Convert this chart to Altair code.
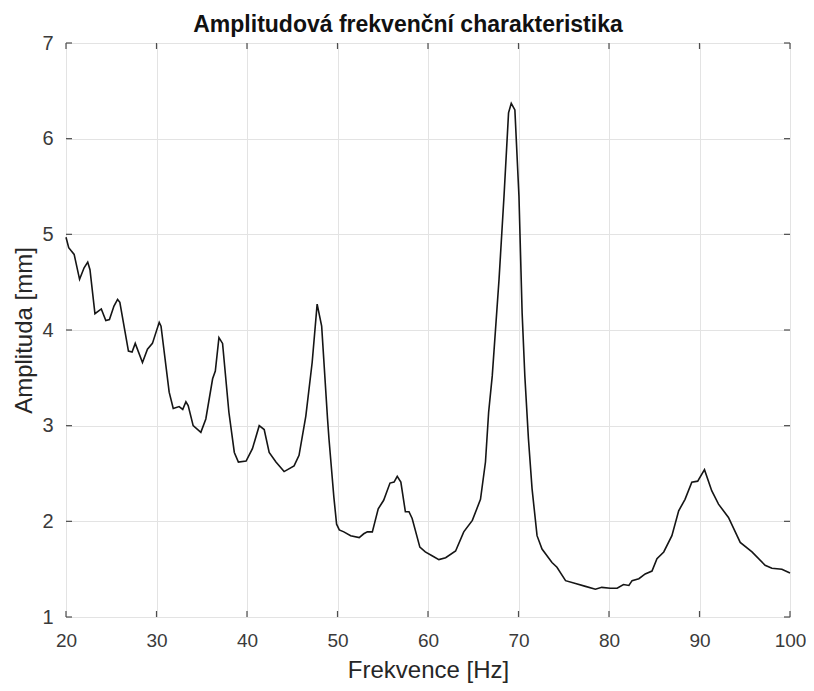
import altair as alt
import pandas as pd

# Frequency [Hz] and amplitude [mm]
freq = [20.0, 20.3, 20.55, 20.9, 21.5, 22.0, 22.4, 22.65, 23.2, 23.9, 24.4, 24.8, 25.3, 25.7, 25.95,
        26.9, 27.3, 27.65, 28.45, 29.0, 29.55, 30.3, 30.5, 31.4, 31.85, 32.5, 32.9, 33.25, 33.5,
        34.05, 34.9, 35.45, 36.2, 36.5, 36.9, 37.3, 38.0, 38.6, 39.05, 39.9, 40.6, 41.35, 41.9,
        42.45, 43.2, 44.1, 45.2, 45.75, 46.5, 47.2, 47.75, 48.25, 48.9, 49.06, 49.6, 49.9, 50.2,
        50.7, 51.45, 52.4, 52.9, 53.3, 53.85, 54.5, 55.1, 55.8, 56.25, 56.6, 57.0, 57.5, 57.9,
        58.25, 59.1, 59.7, 60.45, 61.2, 61.95, 63.05, 63.95, 64.9, 65.8, 66.35, 66.7, 67.1,
        67.85, 68.4, 68.9, 69.2, 69.6, 70.05, 70.4, 70.7, 71.1, 71.5, 72.05, 72.6, 73.7, 74.25,
        75.2, 76.3, 77.4, 78.5, 79.2, 80.15, 80.9, 81.6, 82.2, 82.55, 83.3, 84.0, 84.75, 85.3,
        86.05, 86.95, 87.7, 88.4, 89.15, 89.8, 90.55, 91.35, 92.1, 93.2, 94.5, 95.8, 97.25,
        98.0, 99.1, 100.0]
amp = [4.97, 4.86, 4.83, 4.79, 4.53, 4.65, 4.71, 4.63, 4.17, 4.22, 4.10, 4.11, 4.25, 4.32, 4.29,
       3.78, 3.77, 3.86, 3.66, 3.80, 3.86, 4.08, 4.04, 3.35, 3.18, 3.20, 3.17, 3.25, 3.21,
       3.00, 2.93, 3.07, 3.49, 3.57, 3.92, 3.86, 3.14, 2.72, 2.62, 2.63, 2.76, 3.00, 2.96,
       2.72, 2.62, 2.52, 2.58, 2.69, 3.10, 3.66, 4.27, 4.04, 3.07, 2.86, 2.25, 1.97, 1.91,
       1.89, 1.85, 1.83, 1.87, 1.89, 1.89, 2.13, 2.22, 2.40, 2.41, 2.47, 2.41, 2.10, 2.10,
       2.03, 1.73, 1.68, 1.64, 1.60, 1.62, 1.69, 1.89, 2.01, 2.23, 2.62, 3.14, 3.52,
       4.53, 5.40, 6.27, 6.37, 6.30, 5.40, 4.18, 3.52, 2.86, 2.34, 1.85, 1.71, 1.57, 1.52,
       1.38, 1.35, 1.32, 1.29, 1.31, 1.30, 1.30, 1.34, 1.33, 1.38, 1.40, 1.45, 1.48, 1.61,
       1.68, 1.85, 2.11, 2.23, 2.41, 2.42, 2.54, 2.32, 2.18, 2.04, 1.78, 1.68, 1.54,
       1.51, 1.50, 1.46]

x_ticks = [20, 30, 40, 50, 60, 70, 80, 90, 100]
y_ticks = [1, 2, 3, 4, 5, 6, 7]

W, H = 724, 574
FONT = "Liberation Sans"

df = pd.DataFrame({"f": freq, "a": amp})
xt = pd.DataFrame({"t": x_ticks})
yt = pd.DataFrame({"t": y_ticks})

xscale = alt.Scale(domain=[20, 100], nice=False, zero=False)
yscale = alt.Scale(domain=[1, 7], nice=False, zero=False)

common_axis = dict(grid=True, tickSize=0, domain=False, format="d", labelFlush=False,
                   titleFontSize=24,
                   labelColor="#3a3a3a", titleColor="#262626",
                   labelFont=FONT, titleFont=FONT, titleFontWeight="normal",
                   gridColor="#e3e3e3", gridWidth=1)

line = alt.Chart(df).mark_line(color="#151515", strokeWidth=1.6).encode(
    x=alt.X("f:Q", scale=xscale, title="Frekvence [Hz]",
            axis=alt.Axis(values=x_ticks, labelFontSize=19, labelPadding=14,
                          titlePadding=8, **common_axis)),
    y=alt.Y("a:Q", scale=yscale, title="Amplituda [mm]",
            axis=alt.Axis(values=y_ticks, labelFontSize=20, labelPadding=13,
                          titlePadding=5, **common_axis)),
)

tick_style = dict(color="#4d4d4d", strokeWidth=1.2)
bottom = alt.Chart(xt).mark_rule(**tick_style).encode(
    x=alt.X("t:Q", scale=xscale), y=alt.value(H), y2=alt.value(H - 6))
top = alt.Chart(xt).mark_rule(**tick_style).encode(
    x=alt.X("t:Q", scale=xscale), y=alt.value(0), y2=alt.value(6))
left = alt.Chart(yt).mark_rule(**tick_style).encode(
    y=alt.Y("t:Q", scale=yscale), x=alt.value(0), x2=alt.value(6))
right = alt.Chart(yt).mark_rule(**tick_style).encode(
    y=alt.Y("t:Q", scale=yscale), x=alt.value(W), x2=alt.value(W - 6))

chart = alt.layer(line, bottom, top, left, right).properties(
    width=W, height=H,
    title=alt.TitleParams("Amplitudová frekvenční charakteristika", font=FONT,
                          fontSize=23, fontWeight="bold", color="#111111",
                          anchor="middle", frame="group", offset=-4, dx=-20),
    autosize=alt.AutoSizeParams(type="none"),
    padding={"left": 58, "top": 35, "right": 16, "bottom": 66},
).configure_view(stroke="#4d4d4d", strokeWidth=1.5).configure(background="white")

chart.save("out.html", embed_options={"renderer": "svg", "actions": False})
